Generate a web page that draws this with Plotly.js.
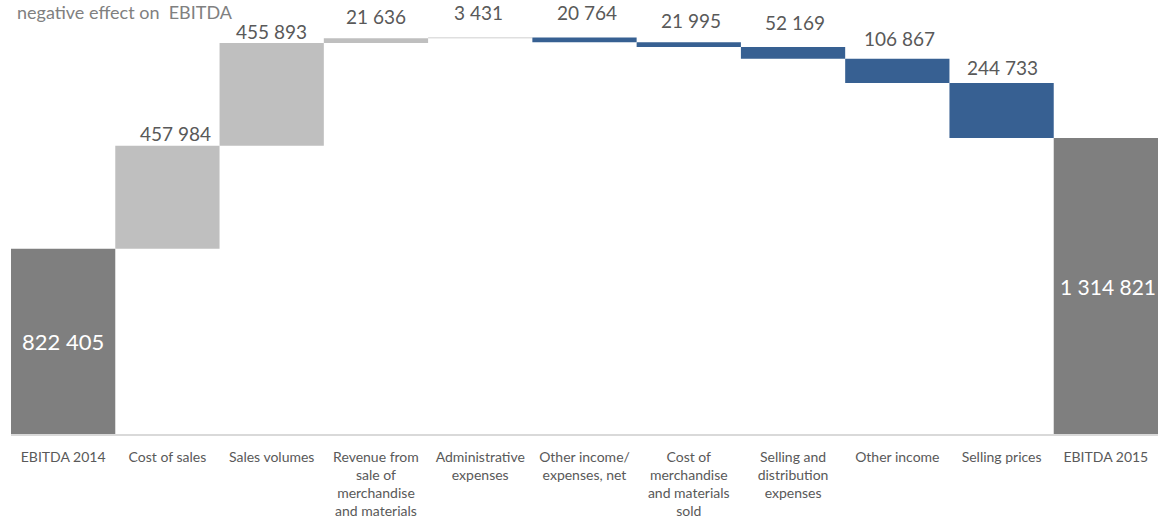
<!DOCTYPE html>
<html>
<head>
<meta charset="utf-8">
<script src="https://cdn.plot.ly/plotly-3.0.1.min.js"></script>
<style>html,body{margin:0;padding:0;background:#fff;}#chart{width:1158px;height:520px;}</style>
</head>
<body>
<div id="chart"></div>
<script>
// ---- data ----
const categories = [
  "EBITDA 2014", "Cost of sales", "Sales volumes", "Revenue from<br>sale of<br>merchandise<br>and materials",
  "Administrative<br>expenses", "Other income/<br>expenses, net", "Cost of<br>merchandise<br>and materials<br>sold",
  "Selling and<br>distribution<br>expenses", "Other income", "Selling prices", "EBITDA 2015"
];
const measures = ["absolute","relative","relative","relative","relative","relative","relative","relative","relative","relative","total"];
const changes = [822405, 457984, 455893, 21636, 3431, -20764, -21995, -52169, -106867, -244733, 0];
const labelValues = [822405, 457984, 455893, 21636, 3431, 20764, 21995, 52169, 106867, 244733, 1314821];
const noteText = "negative effect on  EBITDA";

// ---- style ----
const labelGap = [0, 12, 12, 22, 25, 25, 22, 25, 20, 15, 0]; // px above bar top
const labelXShift = [0, 8, 0, 0, -2, 2, 2, 2, 2, 1, 2];
const insideSize = [22, 0, 0, 0, 0, 0, 0, 0, 0, 0, 21];

function fmt(v){ return String(Math.round(Math.abs(v))).replace(/\B(?=(\d{3})+(?!\d))/g, " "); }

// compute running tops (data units) for label placement
let run = 0; const tops = [];
for (let i = 0; i < changes.length; i++) {
  if (measures[i] === "absolute") { run = changes[i]; tops.push(run); }
  else if (measures[i] === "total") { tops.push(run); }
  else { const prev = run; run += changes[i]; tops.push(Math.max(prev, run)); }
}

const annotations = [];
for (let i = 0; i < categories.length; i++) {
  if (measures[i] === "relative") {
    annotations.push({
      x: i, y: tops[i], xref: "x", yref: "y", text: fmt(labelValues[i]),
      showarrow: false, yanchor: "middle", xanchor: "center",
      yshift: labelGap[i], xshift: labelXShift[i],
      font: {family: "Lato, 'Open Sans', sans-serif", size: 19, color: "#595959"}
    });
  } else {
    annotations.push({
      x: i, y: tops[i] / 2, xref: "x", yref: "y", text: fmt(labelValues[i]),
      showarrow: false, yanchor: "middle", xanchor: "center", xshift: labelXShift[i],
      font: {family: "Lato, 'Open Sans', sans-serif", size: insideSize[i], color: "#ffffff"}
    });
  }
}
annotations.push({
  x: 0, y: 1, xref: "paper", yref: "paper", text: noteText, showarrow: false,
  xanchor: "left", yanchor: "top", xshift: 4, yshift: 1,
  font: {family: "Lato, 'Open Sans', sans-serif", size: 18, color: "#808080"}
});

const trace = {
  type: "waterfall",
  x: categories,
  y: changes,
  measure: measures,
  textinfo: "none",
  hoverinfo: "skip",
  connector: {visible: false},
  increasing: {marker: {color: "#bfbfbf", line: {width: 0}}},
  decreasing: {marker: {color: "#376092", line: {width: 0}}},
  totals: {marker: {color: "#7f7f7f", line: {width: 0}}},
  width: 1
};

const layout = {
  width: 1158, height: 520,
  margin: {l: 11, r: 0, t: 0, b: 86, pad: 0},
  paper_bgcolor: "#ffffff", plot_bgcolor: "#ffffff",
  showlegend: false,
  bargap: 0,
  xaxis: {
    type: "category", automargin: false,
    range: [-0.5, categories.length - 0.5],
    showline: true, linecolor: "#d9d9d9", linewidth: 2,
    showgrid: false, zeroline: false,
    ticks: "", ticklabelstandoff: 9,
    tickangle: 0,
    tickfont: {family: "Lato, 'Open Sans', sans-serif", size: 14, color: "#595959"}
  },
  yaxis: {
    range: [0, 1927800], visible: false, showgrid: false, zeroline: false, automargin: false
  },
  annotations: annotations
};

Plotly.newPlot("chart", [trace], layout, {displayModeBar: false, staticPlot: true});
</script>
</body>
</html>
